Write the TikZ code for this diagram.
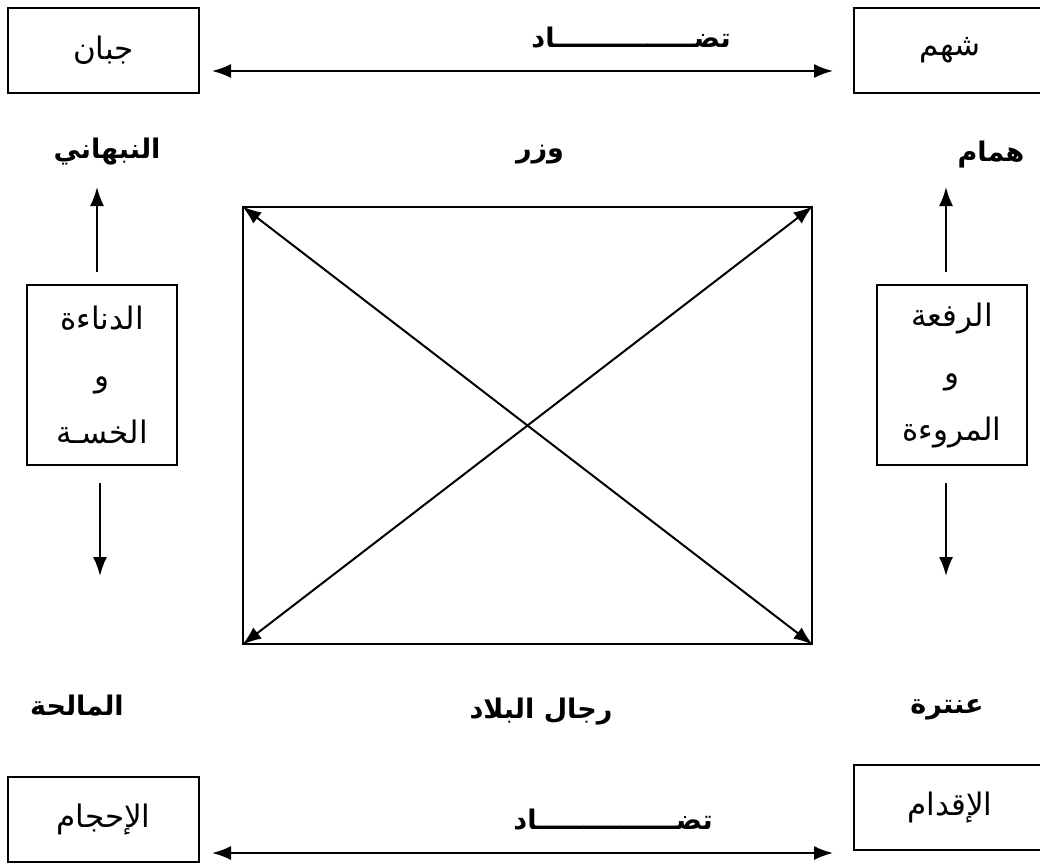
\documentclass[tikz,border=0pt]{standalone}
\usepackage{fontspec}
\TeXXeTstate=1
\newfontfamily\arabicfont[Script=Arabic]{DejaVu Sans}
\usetikzlibrary{arrows.meta}
\begin{document}
\begin{tikzpicture}[x=1pt,y=-1pt,
  box/.style={draw,line width=1.3pt,inner sep=0pt,align=center},
  lbl/.style={font=\arabicfont\fontsize{31}{57}\selectfont},
  blbl/.style={font=\arabicfont\bfseries\fontsize{27}{30}\selectfont},
  arr/.style={line width=2pt,-{Latex[length=19pt,width=14pt]}},
  darr/.style={line width=2pt,{Latex[length=19pt,width=14pt]}-{Latex[length=19pt,width=14pt]}}]
\clip (0,0) rectangle (1040,863);
\fill[white] (0,0) rectangle (1040,863);
% corner boxes
\node[box,lbl,minimum width=191pt,minimum height=85pt] (jb) at (103.5,50.5) {\beginR جبان\endR};
\node[box,lbl,minimum width=192pt,minimum height=85pt] (sh) at (950,50.5) {\beginR شهم\endR};
\node[box,lbl,minimum width=191pt,minimum height=85pt] (ih) at (103.5,819.5) {\beginR الإحجام\endR};
\node[box,lbl,minimum width=192pt,minimum height=85pt] (iq) at (950,807.5) {\beginR الإقدام\endR};
% side boxes
\node[box,lbl,minimum width=150pt,minimum height=180pt] (lb) at (102,375) {\beginR الدناءة\endR\\\beginR و\endR\\\beginR الخسـة\endR};
\node[box,lbl,minimum width=150pt,minimum height=180pt] (rb) at (952,375) {\beginR الرفعة\endR\\\beginR و\endR\\\beginR المروءة\endR};
% central square
\node[box,minimum width=569pt,minimum height=437pt] (sq) at (527.5,425.5) {};
\draw[darr] (sq.north west) -- (sq.south east);
\draw[darr] (sq.north east) -- (sq.south west);
% labels
\node[blbl] (tt) at (631,38) {\beginR تضـــــــــــــــاد\endR};
\node[blbl] (bt) at (613,820) {\beginR تضـــــــــــــــاد\endR};
\node[blbl] (nb) at (107,152) {\beginR النبهاني\endR};
\node[blbl] (wz) at (540,155) {\beginR وزر\endR};
\node[blbl] (hm) at (991,155) {\beginR همام\endR};
\node[blbl] (ml) at (77,706) {\beginR المالحة\endR};
\node[blbl] (rj) at (541,712) {\beginR رجال البلاد\endR};
\node[blbl] (an) at (947,710) {\beginR عنترة\endR};
% horizontal arrows
\coordinate (t1) at (212,71);
\coordinate (t2) at (833,71);
\coordinate (b1) at (212,853);
\coordinate (b2) at (833,853);
\draw[darr] (t1) -- (t2);
\draw[darr] (b1) -- (b2);
% vertical arrows
\coordinate (lu1) at (97,272);
\coordinate (lu2) at (97,187);
\coordinate (ld1) at (100,483);
\coordinate (ld2) at (100,576);
\coordinate (ru1) at (946,272);
\coordinate (ru2) at (946,187);
\coordinate (rd1) at (946,483);
\coordinate (rd2) at (946,576);
\draw[arr] (lu1) -- (lu2);
\draw[arr] (ld1) -- (ld2);
\draw[arr] (ru1) -- (ru2);
\draw[arr] (rd1) -- (rd2);
\end{tikzpicture}
\end{document}
